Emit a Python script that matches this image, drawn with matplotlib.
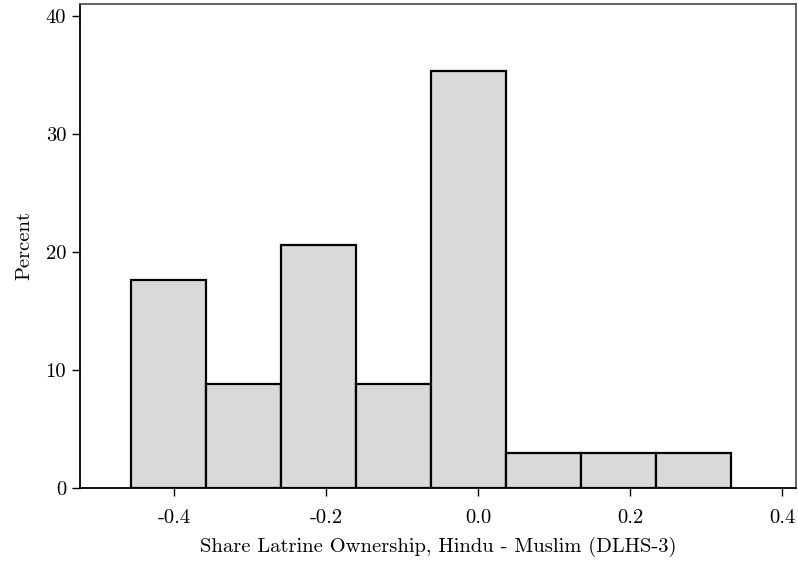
import matplotlib
matplotlib.use("Agg")
import matplotlib.pyplot as plt
import numpy as np

# Data
bin_edges = [-0.4566, -0.3579, -0.2592, -0.1605, -0.0618, 0.0368, 0.1355, 0.2342, 0.3329]
percent = [17.65, 8.82, 20.59, 8.82, 35.29, 2.94, 2.94, 2.94]
xticks = [-0.4, -0.2, 0.0, 0.2, 0.4]
xtick_labels = ["-0.4", "-0.2", "0.0", "0.2", "0.4"]
yticks = [0, 10, 20, 30, 40]
ytick_labels = ["0", "10", "20", "30", "40"]
xlabel = "Share Latrine Ownership, Hindu - Muslim (DLHS-3)"
ylabel = "Percent"

plt.rcParams['font.family'] = ['cmr10', 'DejaVu Serif']

fig = plt.figure(figsize=(7.98, 5.66), dpi=100)
ax = fig.add_axes([0.1003, 0.1378, 0.8967, 0.8552])

lefts = np.array(bin_edges[:-1])
widths = np.diff(bin_edges)
ax.bar(lefts, percent, width=widths, align='edge', color='#d9d9d9',
       edgecolor='black', linewidth=1.6, zorder=2)

ax.set_xlim(-0.524, 0.418)
ax.set_ylim(0, 41.0)
ax.set_xticks(xticks)
ax.set_xticklabels(xtick_labels)
ax.set_yticks(yticks)
ax.set_yticklabels(ytick_labels)

for s in ['left', 'bottom']:
    ax.spines[s].set_color('black')
    ax.spines[s].set_linewidth(1.3)
for s in ['top', 'right']:
    ax.spines[s].set_color('#555555')
    ax.spines[s].set_linewidth(1.3)

ax.tick_params(axis='both', direction='out', length=6, width=1.0, color='black',
               labelsize=14.8)
ax.tick_params(axis='x', pad=9)
ax.tick_params(axis='y', pad=4)

ax.set_xlabel(xlabel, fontsize=14.8, labelpad=7)
ax.set_ylabel(ylabel, fontsize=14.8, labelpad=9)

fig.savefig("out.png", dpi=100)
